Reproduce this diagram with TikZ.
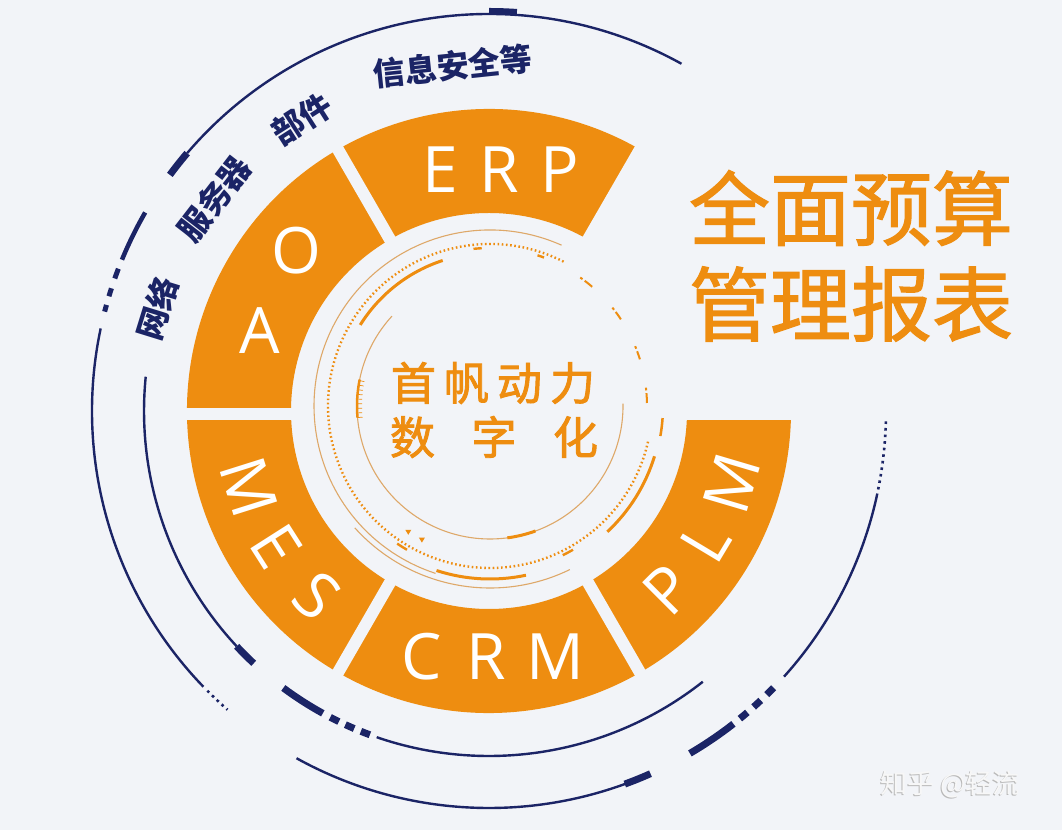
\documentclass[tikz,border=0pt]{standalone}
\usepackage{fontspec}
\setmainfont{Open Sans}
\newfontfamily\cjk{Noto Sans CJK SC}
\newfontfamily\cjkmed[FakeBold=2]{Noto Sans CJK SC}
\newfontfamily\cjktitle[FakeBold=1.5]{Noto Sans CJK SC}
\usetikzlibrary{calc}
\definecolor{bg}{RGB}{242,244,248}
\definecolor{org}{RGB}{238,141,16}
\definecolor{lorg}{RGB}{222,168,105}
\definecolor{navy}{RGB}{27,36,102}
\newcommand{\carc}[5]{\draw[#1] ($(#2)+(#4:#3)$) arc[start angle=#4,end angle=#5,radius=#3];}
\begin{document}
\begin{tikzpicture}[x=1pt,y=1pt,
  lbl/.style={text=white,inner sep=0pt,font=\fontsize{64}{64}\selectfont},
  bluech/.style={text=navy,inner sep=0pt,font=\cjk\bfseries\fontsize{32}{32}\selectfont},
  thinnavy/.style={navy,line width=2.4},
  thicknavy/.style={navy,line width=7},
  midnavy/.style={navy,line width=4.5},
  dotnavy/.style={navy,line width=2.6,dash pattern=on 2.6pt off 4pt},
  thinorg/.style={lorg,line width=1.1},
  thickorg/.style={org,line width=3},
  dotorg/.style={org,line width=2.4,dash pattern=on 1.6pt off 2.6pt},
  gap/.style={bg,line width=12}
]
\fill[bg] (0,0) rectangle (1062,830);
\useasboundingbox (0,0) rectangle (1062,830);
\coordinate (C) at (489,419);
\coordinate (D) at (490,424);

% ---- orange ring ----
\fill[org] ($(C)+(60:302)$) arc[start angle=60,end angle=360,radius=302]
  -- ($(C)+(0:198)$) arc[start angle=360,end angle=60,radius=198] -- cycle;
\foreach \a in {60,120,240,300} \draw[gap] ($(C)+(\a:185)$) -- ($(C)+(\a:315)$);
\foreach \a in {0,180} \draw[gap] ($(C)+(0,-3)+(\a:185)$) -- ($(C)+(0,-3)+(\a:315)$);

% ---- ring labels ----
\node[lbl] (erp) at (501,660) {E\hspace{21pt}R\hspace{22pt}P};
\node[lbl] (crm) at (493,173) {C\hspace{24pt}R\hspace{21pt}M};
\node[lbl] (oaO) at (296,579) {O};
\node[lbl] (oaA) at (260,499) {A};
\foreach \ch/\a [count=\i] in {M/197.5,E/212.5,S/227}
  \node[lbl,rotate=\a-270] (mes\i) at ($(C)+(\a:252)$) {\ch};
\foreach \ch/\a [count=\i] in {P/315,L/329,M/343.5}
  \node[lbl,rotate=\a-270] (plm\i) at ($(C)+(\a:253)$) {\ch};

% ---- navy outer arcs, r=397 ----
\carc{thinnavy}{C}{397}{61}{139.5}
\carc{thicknavy}{C}{397}{139.5}{143.5}
\carc{navy,line width=6}{C}{400}{86}{90}
\carc{midnavy}{C}{397}{150}{157.6}
\carc{navy,line width=5}{C}{397}{159}{160.5}
\carc{navy,line width=5}{C}{397}{162}{163.2}
\carc{navy,line width=5}{C}{397}{164.5}{165.5}
\carc{thinnavy}{C}{397}{168}{224}
\carc{dotnavy}{C}{397}{224.8}{228.8}
\carc{thinnavy}{C}{397}{241}{291}
\carc{thicknavy}{C}{397}{290}{294}
\carc{thicknavy}{C}{397}{300.4}{308}
\carc{thicknavy}{C}{397}{309.2}{310.6}
\carc{thicknavy}{C}{397}{311.8}{313.2}
\carc{thicknavy}{C}{397}{314.4}{315.8}
\carc{thinnavy}{C}{397}{318}{348}
\carc{dotnavy}{C}{397}{348.6}{359}
% ---- navy arcs, r=345 ----
\carc{thinnavy}{C}{345}{174.3}{223}
\carc{thicknavy}{C}{345}{223}{227}
\carc{thicknavy}{C}{345}{233.4}{241.2}
\carc{thicknavy}{C}{345}{242.6}{244.2}
\carc{thicknavy}{C}{345}{245.4}{247}
\carc{thicknavy}{C}{345}{248.2}{249.8}
\carc{thinnavy}{C}{345}{251}{308.3}

% ---- navy text ----
\foreach \w/\a [count=\i] in {信息安全等/96,部件/122.6,服务器/142.3,网络/162.8}
  \node[bluech,rotate=\a-90] (bt\i) at ($(C)+(\a:347)$) {\w};

% ---- inner orange decoration ----
\carc{thinorg}{D}{176}{66}{252}
\carc{thickorg}{D}{173}{252}{282}
\carc{thinorg}{D}{182}{222}{296}
\carc{thickorg}{D}{172}{313}{343}
\carc{thickorg,line width=2.5}{D}{173}{350}{356}
\carc{dotorg}{D}{162}{63}{348}
\carc{thickorg}{D}{153}{108}{148}
\carc{thinorg}{D}{133}{137.5}{361}
\carc{thickorg,line width=2.5}{D}{133}{168.5}{185}
\foreach \a in {169,171,...,185} \draw[org,line width=0.7] ($(D)+(\a:133)$) -- ($(D)+(\a:128)$);
\carc{thickorg}{D}{133}{277.5}{290}
\foreach \a/\b in {54.9/49.4,38.8/33.5,22.4/17.3,6.7/1.1} {
  \carc{org,line width=2}{D}{157}{\a}{\a-1}
  \carc{org,line width=2}{D}{157}{\a-2}{\b}
}
\carc{org,line width=2.4}{D}{158}{70}{72.5}
\carc{org,line width=2.4}{D}{158}{93}{96}
\carc{org,line width=2.4}{D}{166}{236}{240}
\carc{org,line width=2.4}{D}{166}{296}{300}
\fill[org] ($(D)+(237:150)$) ++(-3,2) -- ++(6,0) -- ++(-3,-5) -- cycle;
\fill[org] ($(D)+(243:150)$) ++(-3,2) -- ++(6,0) -- ++(-3,-5) -- cycle;

% ---- centre text ----
\node[text=org,inner sep=0pt,font=\cjkmed\fontsize{45}{45}\selectfont] (t1) at (493,447) {首\hspace{8pt}帆\hspace{8pt}动\hspace{8pt}力};
\node[text=org,inner sep=0pt,font=\cjkmed\fontsize{45}{45}\selectfont] (t2) at (494,393) {数\hspace{36.5pt}字\hspace{36.5pt}化};

% ---- right title ----
\node[text=org,inner sep=0pt,font=\cjktitle\fontsize{81}{81}\selectfont] (r1) at (851,622) {全面预算};
\node[text=org,inner sep=0pt,font=\cjktitle\fontsize{81}{81}\selectfont] (r2) at (851,526) {管理报表};

% ---- watermark ----
\node[text=gray!55,inner sep=0pt,font=\cjk\fontsize{27}{27}\selectfont] (wms) at (949,45) {知乎 @轻流};
\node[text=white!94!gray,inner sep=0pt,font=\cjk\fontsize{27}{27}\selectfont] (wm) at (950,46) {知乎 @轻流};
\end{tikzpicture}
\end{document}
